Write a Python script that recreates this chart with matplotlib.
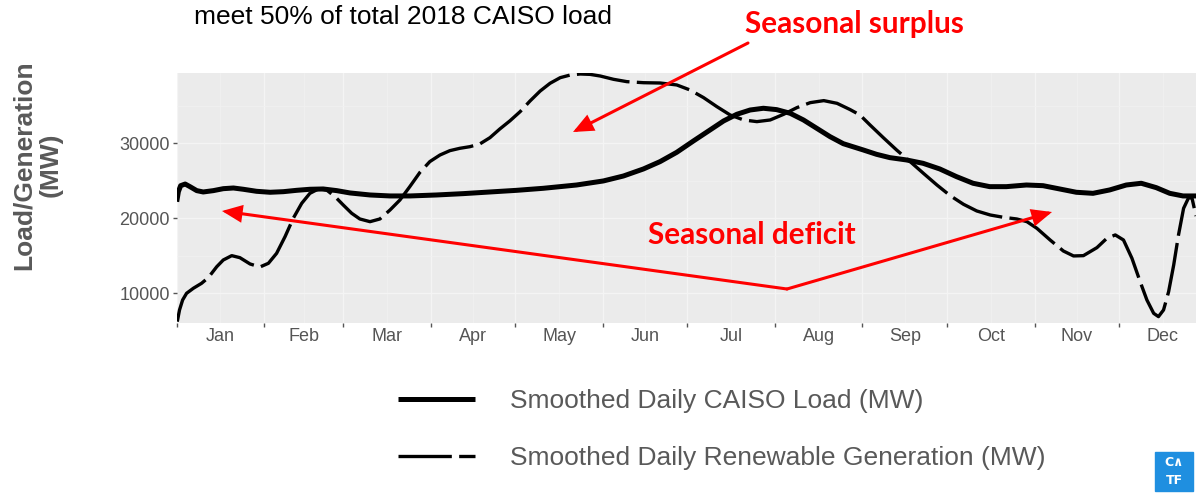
import matplotlib
matplotlib.use("Agg")
import matplotlib.pyplot as plt
from matplotlib.patches import FancyArrowPatch, Rectangle

# ---------------- data ----------------
months = ["Jan", "Feb", "Mar", "Apr", "May", "Jun",
          "Jul", "Aug", "Sep", "Oct", "Nov", "Dec"]
month_days = [31, 28, 31, 30, 31, 30, 31, 31, 30, 31, 30, 31]

load_day = [0, 0.6, 1.4, 3.0, 4.7, 7.1, 9.4, 13.0, 16.5, 20.1, 23.6, 28.3,
            33.1, 37.8, 42.5, 47.2, 51.9, 56.7, 61.4, 68.5, 75.6, 82.7, 92.1,
            101.6, 111.0, 120.5, 129.9, 141.7, 151.2, 158.3, 165.4, 171.3,
            177.2, 183.1, 189.0, 193.8, 198.5, 203.2, 207.9, 212.6, 217.4,
            222.1, 226.8, 231.5, 236.2, 240.0, 243.3, 248.0, 252.7, 258.6,
            264.5, 270.4, 276.3, 282.2, 288.1, 294.0, 301.1, 307.0, 312.9,
            318.8, 324.7, 330.6, 336.5, 341.8, 347.1, 351.9, 356.6, 361.2]
load_mw = [22210, 23550, 24350, 24570, 24220, 23690, 23510, 23690, 23950,
           24040, 23870, 23600, 23470, 23550, 23730, 23870, 23910, 23690,
           23380, 23110, 22980, 22980, 23110, 23290, 23510, 23730, 24000,
           24440, 24980, 25640, 26580, 27560, 28800, 30310, 31780, 32980,
           33870, 34440, 34670, 34490, 34000, 33110, 32000, 30890, 29950,
           29500, 29110, 28530, 28090, 27780, 27330, 26580, 25560, 24670,
           24220, 24220, 24440, 24350, 23910, 23470, 23330, 23780, 24440,
           24670, 24090, 23330, 22980, 22980]

ren_day = [0.2, 1.0, 2.1, 3.5, 5.9, 8.8, 11.2, 14.2, 16.5, 19.5, 22.4, 26.0,
           29.5, 32.5, 35.4, 38.4, 41.3, 44.3, 47.2, 50.2, 53.1, 56.1, 59.0,
           62.0, 64.9, 68.5, 72.0, 75.6, 79.1, 82.6, 86.2, 89.7, 93.3, 96.8,
           100.3, 103.9, 107.4, 111.0, 114.5, 118.1, 121.7, 125.2, 128.8,
           132.3, 135.9, 139.4, 143.0, 146.5, 150.1, 154.8, 159.5, 165.4,
           171.3, 177.2, 181.9, 186.7, 191.4, 196.1, 200.9, 205.6, 210.3,
           215.1, 219.8, 224.5, 229.3, 234.0, 238.6, 242.1, 245.7, 250.4,
           255.1, 259.9, 264.6, 269.4, 274.1, 278.8, 283.5, 288.3, 293.0,
           297.7, 301.3, 304.8, 309.5, 314.2, 317.8, 321.3, 326.1, 329.6,
           332.6, 335.5, 338.5, 341.4, 343.8, 346.2, 347.9, 349.7, 351.5,
           353.3, 355.0, 356.8, 358.6, 359.8, 361.2]
ren_mw = [6220, 7780, 9110, 10000, 10670, 11330, 12090, 13550, 14440, 15020,
          14750, 13910, 13510, 14000, 15330, 17560, 20000, 22000, 23330,
          23910, 23780, 22890, 21780, 20670, 19910, 19550, 19910, 21110,
          22440, 24220, 26130, 27560, 28440, 29020, 29330, 29550, 29910,
          30750, 31910, 33000, 34220, 35640, 36970, 38000, 38750, 39100,
          39240, 39190, 38970, 38530, 38220, 38080, 38040, 37780, 37110,
          36090, 34890, 33780, 33110, 32890, 33110, 33870, 34760, 35420,
          35690, 35330, 34500, 33780, 32440, 30750, 29110, 27560, 26000,
          24440, 23020, 21870, 20980, 20440, 20130, 19910, 19550, 18670,
          17110, 15640, 14980, 15020, 16090, 17330, 17780, 17110, 14670,
          11560, 9110, 7330, 6890, 7780, 10220, 13780, 17780, 21330, 22760,
          22670, 20300]

y_ticks = [10000, 20000, 30000]
y_minor = [15000, 25000, 35000]
load_label = "Smoothed Daily CAISO Load (MW)"
ren_label = "Smoothed Daily Renewable Generation (MW)"
title_text = "meet 50% of total 2018 CAISO load"

# ---------------- figure ----------------
W, H = 1196, 493
fig = plt.figure(figsize=(W / 100, H / 100), dpi=100)


def P(x, y):
    return (x / W, 1 - y / H)


ax_l, ax_t, ax_b = 176.7, 73.3, 323.0
ax = fig.add_axes([ax_l / W, 1 - ax_b / H, (W - ax_l) / W, (ax_b - ax_t) / H])
ax.set_facecolor("#EBEBEB")
for s in ax.spines.values():
    s.set_visible(False)
ax.set_xlim(0, 361.2)
ax.set_ylim(6040, 39333)

starts = [sum(month_days[:i]) for i in range(12)]
mids = [starts[i] + month_days[i] / 2 for i in range(12)]
ax.set_xticks(starts)
ax.set_xticklabels([])
ax.set_xticks(mids, minor=True)
ax.set_xticklabels(months, minor=True)
ax.set_yticks(y_ticks)
ax.set_yticklabels([str(v) for v in y_ticks])
ax.set_yticks(y_minor, minor=True)

tick_col = "#555555"
ax.tick_params(axis="x", which="major", length=3, width=1.0, color=tick_col)
ax.tick_params(axis="x", which="minor", length=0, pad=3.5,
               labelsize=13, labelcolor=tick_col)
ax.tick_params(axis="y", which="major", length=3, width=1.0, color=tick_col,
               pad=2, labelsize=13, labelcolor=tick_col)
ax.tick_params(axis="y", which="minor", length=0)
for lab in ax.get_xticklabels(minor=True) + ax.get_yticklabels():
    lab.set_family("Liberation Sans")

ax.grid(which="major", color="#F4F4F4", lw=0.9)
ax.grid(which="minor", color="#F1F1F1", lw=0.5)
ax.set_axisbelow(True)

load_line, = ax.plot(load_day, load_mw, color="black", lw=3.6,
                     solid_joinstyle="round", solid_capstyle="butt",
                     label=load_label)
ren_line, = ax.plot(ren_day, ren_mw, color="black", lw=2.4,
                    dashes=(16, 2.2), dash_joinstyle="round", label=ren_label)

ylab = ax.set_ylabel("Load/Generation\n(MW)", fontsize=19, fontweight="bold",
                     color="#595959", family="Liberation Sans",
                     linespacing=1.15)
ylab.set_va("center")
ylab.set_multialignment("center")
ax.yaxis.set_label_coords((37.5 - ax_l) / (W - ax_l), (ax_b - 165) / (ax_b - ax_t))

# ---------------- texts ----------------
title = fig.text(*P(194, 24.0), title_text, fontsize=19, color="black",
                 family="Liberation Sans", ha="left", va="baseline")
t_sur = fig.text(*P(745, 33.3), "Seasonal surplus", fontsize=22,
                 color="#FF0000", family="Lato", fontweight="bold",
                 ha="left", va="baseline")
t_def = fig.text(*P(648, 244), "Seasonal deficit", fontsize=22,
                 color="#FF0000", family="Lato", fontweight="bold",
                 ha="left", va="baseline")


def fit(t, target, use_height=False):
    for _ in range(3):
        fig.canvas.draw()
        bb = t.get_window_extent()
        cur = bb.height if use_height else bb.width
        t.set_fontsize(t.get_fontsize() * target / cur)


fit(title, 418)
fit(t_sur, 220)
fit(t_def, 208)

# legend font size fitted from a temporary text
tmp = fig.text(0, 0, load_label, fontsize=19, family="Liberation Sans")
fit(tmp, 415)
leg_fs = tmp.get_fontsize()
tmp.remove()
fs_px = leg_fs * 100 / 72

leg = fig.legend([load_line, ren_line], [load_label, ren_label],
                 loc="upper left", bbox_to_anchor=P(398, 389), frameon=False,
                 prop={"family": "Liberation Sans", "size": leg_fs},
                 labelcolor="#595959", handlelength=77 / fs_px,
                 handletextpad=35 / fs_px, labelspacing=1.25,
                 borderpad=0, borderaxespad=0)

# ---------------- arrows ----------------
astyle = "-|>,head_length=0.55,head_width=0.24"
for a, b in [((748, 43), (573, 132)),
             ((787, 289), (222, 211)),
             ((787, 289), (1052, 212))]:
    arr = FancyArrowPatch(P(*a), P(*b), transform=fig.transFigure,
                          arrowstyle=astyle, mutation_scale=20,
                          color="#FF0000", lw=2.2, shrinkA=0, shrinkB=0,
                          capstyle="round", joinstyle="miter")
    fig.add_artist(arr)

# ---------------- logo ----------------
fig.add_artist(Rectangle(P(1155, 491), 38 / W, 39 / H,
                         transform=fig.transFigure, color="#1F8FE0"))
fig.text(*P(1174, 463), "C\u2227", color="white", fontsize=9,
         fontweight="bold", ha="center", va="center", family="DejaVu Sans")
fig.text(*P(1174, 481), "TF", color="white", fontsize=9,
         fontweight="bold", ha="center", va="center", family="DejaVu Sans")

fig.savefig("out.png", dpi=100)
